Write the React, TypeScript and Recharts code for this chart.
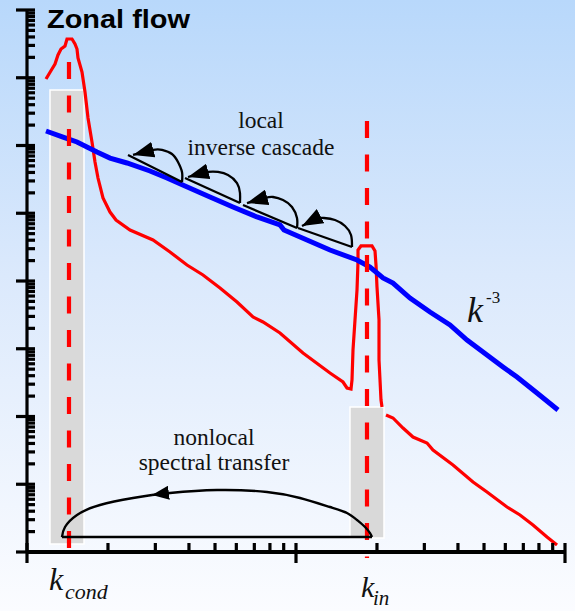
import React from 'react';
import { ComposedChart, XAxis, YAxis, Line, ReferenceArea, ReferenceLine } from 'recharts';

// Axes are log-log: values below are decades (log10 k, log10 E)
const xDecades = [0, 1];
const yDecades = [0, 1, 2, 3, 4, 5, 6, 7];
const minorMultipliers = [2, 3, 4, 5, 6, 7, 8, 9];
const xTicks = [...xDecades.flatMap((d) => [d, ...minorMultipliers.map((m) => d + Math.log10(m))]), 2];
const yTicks = [...yDecades.flatMap((d) => [d, ...minorMultipliers.map((m) => d + Math.log10(m))]), 8];

const kCond = 0.1561;
const kIn = 1.2639;
const kCondLineRange = [7.232, 0.059];
const kInLineRange = [6.362, -0.089];

const condBand = { x1: 0.0855, x2: 0.2119, y1: 0.118, y2: 6.819 };
const inBand = { x1: 1.2007, x2: 1.3271, y1: 0.207, y2: 2.14 };

const zonalLeft = [
  { x: 0.0706, y: 6.982 }, { x: 0.0929, y: 7.129 }, { x: 0.1041, y: 7.203 }, { x: 0.1152, y: 7.336 },
  { x: 0.1264, y: 7.424 }, { x: 0.1413, y: 7.469 }, { x: 0.1487, y: 7.572 }, { x: 0.1673, y: 7.572 },
  { x: 0.1784, y: 7.498 }, { x: 0.1859, y: 7.424 }, { x: 0.1896, y: 7.292 }, { x: 0.2045, y: 7.085 },
  { x: 0.2156, y: 6.79 }, { x: 0.2268, y: 6.406 }, { x: 0.2416, y: 6.052 }, { x: 0.2528, y: 5.756 },
  { x: 0.2639, y: 5.52 }, { x: 0.2825, y: 5.225 }, { x: 0.3086, y: 5.018 }, { x: 0.3309, y: 4.9 },
  { x: 0.3829, y: 4.753 }, { x: 0.4684, y: 4.605 }, { x: 0.5316, y: 4.428 }, { x: 0.5948, y: 4.236 },
  { x: 0.6543, y: 4.089 }, { x: 0.7175, y: 3.897 }, { x: 0.7807, y: 3.69 }, { x: 0.8401, y: 3.469 },
  { x: 0.8773, y: 3.395 }, { x: 0.9405, y: 3.232 }, { x: 1.026, y: 2.937 }, { x: 1.1264, y: 2.642 },
  { x: 1.1747, y: 2.509 }, { x: 1.1896, y: 2.421 }, { x: 1.2045, y: 2.406 }, { x: 1.2082, y: 2.539 },
  { x: 1.2119, y: 2.982 }, { x: 1.2193, y: 3.424 }, { x: 1.2268, y: 3.867 }, { x: 1.2305, y: 4.28 },
  { x: 1.2305, y: 4.458 }, { x: 1.2416, y: 4.517 }, { x: 1.2825, y: 4.517 }, { x: 1.2937, y: 4.443 },
  { x: 1.2974, y: 4.236 }, { x: 1.3011, y: 3.911 }, { x: 1.3086, y: 3.424 }, { x: 1.3086, y: 2.834 },
  { x: 1.3123, y: 2.539 }, { x: 1.316, y: 2.244 }, { x: 1.3197, y: 2.14 },
];

const zonalRight = [
  { x: 1.3346, y: 2.022 }, { x: 1.3606, y: 1.978 }, { x: 1.3978, y: 1.83 }, { x: 1.4349, y: 1.697 },
  { x: 1.487, y: 1.609 }, { x: 1.5093, y: 1.506 }, { x: 1.5836, y: 1.284 }, { x: 1.658, y: 1.033 },
  { x: 1.71, y: 0.886 }, { x: 1.7844, y: 0.664 }, { x: 1.8327, y: 0.546 }, { x: 1.881, y: 0.399 },
  { x: 1.9331, y: 0.221 }, { x: 1.9703, y: 0.103 },
];

const kMinus3 = [
  { x: 0.0706, y: 6.214 }, { x: 0.1338, y: 6.125 }, { x: 0.1859, y: 6.052 }, { x: 0.2602, y: 5.904 },
  { x: 0.3086, y: 5.815 }, { x: 0.3717, y: 5.742 }, { x: 0.4572, y: 5.624 }, { x: 0.5204, y: 5.52 },
  { x: 0.5874, y: 5.402 }, { x: 0.6803, y: 5.24 }, { x: 0.7658, y: 5.092 }, { x: 0.855, y: 4.945 },
  { x: 0.9405, y: 4.827 }, { x: 0.9554, y: 4.753 }, { x: 1.0409, y: 4.605 }, { x: 1.1264, y: 4.458 },
  { x: 1.2268, y: 4.31 }, { x: 1.2751, y: 4.207 }, { x: 1.3234, y: 4.044 }, { x: 1.3606, y: 3.97 },
  { x: 1.4238, y: 3.749 }, { x: 1.4981, y: 3.542 }, { x: 1.5725, y: 3.351 }, { x: 1.6357, y: 3.129 },
  { x: 1.71, y: 2.908 }, { x: 1.7695, y: 2.731 }, { x: 1.8216, y: 2.583 }, { x: 1.8959, y: 2.347 },
  { x: 1.974, y: 2.096 },
];

const cascadeChords = [
  [{ x: 0.3755, y: 5.86 }, { x: 0.5762, y: 5.461 }],
  [{ x: 0.5874, y: 5.52 }, { x: 0.7918, y: 5.151 }],
  [{ x: 0.803, y: 5.122 }, { x: 1.0037, y: 4.782 }],
  [{ x: 1.0074, y: 4.782 }, { x: 1.2082, y: 4.502 }],
];

const cascadeArcs = [
  [{ x: 0.5762, y: 5.461 }, { x: 0.5762, y: 5.609 }, { x: 0.5613, y: 5.756 }, { x: 0.539, y: 5.875 },
   { x: 0.5019, y: 5.934 }, { x: 0.4684, y: 5.934 }, { x: 0.3941, y: 5.86 }],
  [{ x: 0.7918, y: 5.151 }, { x: 0.7918, y: 5.299 }, { x: 0.7807, y: 5.446 }, { x: 0.7472, y: 5.565 },
   { x: 0.71, y: 5.609 }, { x: 0.6729, y: 5.609 }, { x: 0.5985, y: 5.535 }],
  [{ x: 1.0037, y: 4.782 }, { x: 1.0037, y: 4.93 }, { x: 0.9851, y: 5.092 }, { x: 0.9517, y: 5.196 },
   { x: 0.9145, y: 5.24 }, { x: 0.8848, y: 5.225 }, { x: 0.8178, y: 5.151 }],
  [{ x: 1.2082, y: 4.502 }, { x: 1.2045, y: 4.679 }, { x: 1.1822, y: 4.812 }, { x: 1.145, y: 4.9 },
   { x: 1.1041, y: 4.93 }, { x: 1.0743, y: 4.915 }, { x: 1.0223, y: 4.812 }],
];

const transferBase = [{ x: 0.1301, y: 0.221 }, { x: 1.2825, y: 0.221 }];
const transferArcHead = [
  { x: 1.2825, y: 0.221 }, { x: 1.2751, y: 0.28 }, { x: 1.2565, y: 0.369 }, { x: 1.2268, y: 0.472 },
  { x: 1.1896, y: 0.576 }, { x: 1.1264, y: 0.664 }, { x: 1.0149, y: 0.797 }, { x: 0.8922, y: 0.886 },
  { x: 0.7063, y: 0.915 }, { x: 0.5316, y: 0.871 }, { x: 0.4647, y: 0.841 },
];
const transferArcTail = [
  { x: 0.4647, y: 0.841 }, { x: 0.3941, y: 0.797 }, { x: 0.2714, y: 0.694 }, { x: 0.1859, y: 0.546 },
  { x: 0.1413, y: 0.369 }, { x: 0.1301, y: 0.221 },
];

const isMajor = (v: number) => Math.abs(v - Math.round(v)) < 1e-6;

const XTick = (props: any) => {
  const { x, y, payload } = props;
  const major = isMajor(payload.value);
  return <line x1={x} x2={x} y1={y - 9} y2={major ? y + 11 : y} stroke="#000" strokeWidth={3.2} />;
};

const YTick = (props: any) => {
  const { x, y, payload } = props;
  const major = isMajor(payload.value);
  return <line x1={major ? x - 11 : x} x2={x + 8} y1={y} y2={y} stroke="#000" strokeWidth={3.2} />;
};

const serif = '"Liberation Serif", "Times New Roman", serif';

export default function App() {
  return (
    <div
      style={{
        position: 'absolute',
        left: 0,
        top: 0,
        width: 575,
        height: 611,
        background: 'linear-gradient(to bottom, #b8d8fb 0%, #dbe9fc 45%, #fbfcff 100%)',
      }}
    >
      <ComposedChart width={575} height={611} margin={{ top: 10, right: 10, bottom: 58, left: 26 }}>
        <defs>
          <marker id="headBig" viewBox="0 0 10 10" refX="10" refY="5" markerWidth="21" markerHeight="16"
            markerUnits="userSpaceOnUse" orient="auto" preserveAspectRatio="none">
            <path d="M0,0 L10,5 L0,10 z" fill="#000" />
          </marker>
          <marker id="headSmall" viewBox="0 0 10 10" refX="10" refY="5" markerWidth="17" markerHeight="14"
            markerUnits="userSpaceOnUse" orient="auto" preserveAspectRatio="none">
            <path d="M0,0 L10,5 L0,10 z" fill="#000" />
          </marker>
        </defs>
        <XAxis
          type="number"
          dataKey="x"
          domain={[0, 2]}
          allowDataOverflow
          ticks={xTicks}
          interval={0}
          tick={(p: any) => <XTick {...p} />}
          tickLine={false}
          tickSize={0}
          tickMargin={0}
          height={1}
          axisLine={{ stroke: '#000', strokeWidth: 4 }}
        />
        <YAxis
          type="number"
          dataKey="y"
          domain={[0, 8]}
          allowDataOverflow
          ticks={yTicks}
          interval={0}
          tick={(p: any) => <YTick {...p} />}
          tickLine={false}
          tickSize={0}
          tickMargin={0}
          width={1}
          axisLine={{ stroke: '#000', strokeWidth: 3.2 }}
        />
        <ReferenceArea {...condBand} fill="#d9d9d9" fillOpacity={1} stroke="#ffffff" strokeWidth={1.5} ifOverflow="visible" />
        <ReferenceArea {...inBand} fill="#d9d9d9" fillOpacity={1} stroke="#ffffff" strokeWidth={1.5} ifOverflow="visible" />

        <Line data={zonalLeft} dataKey="y" type="linear" stroke="#ff0000" strokeWidth={3.2} dot={false} isAnimationActive={false} />
        <Line data={zonalRight} dataKey="y" type="linear" stroke="#ff0000" strokeWidth={3.2} dot={false} isAnimationActive={false} />
        <Line data={kMinus3} dataKey="y" type="linear" stroke="#0000ff" strokeWidth={5} dot={false} isAnimationActive={false} />

        <ReferenceLine
          segment={[{ x: kCond, y: kCondLineRange[0] }, { x: kCond, y: kCondLineRange[1] }]}
          stroke="#ff0000" strokeWidth={4.2} strokeDasharray="17 16.5" ifOverflow="visible"
        />
        <ReferenceLine
          segment={[{ x: kIn, y: kInLineRange[0] }, { x: kIn, y: kInLineRange[1] }]}
          stroke="#ff0000" strokeWidth={4.2} strokeDasharray="17 16.5" ifOverflow="visible"
        />

        {cascadeChords.map((d, i) => (
          <Line key={`c${i}`} data={d} dataKey="y" type="linear" stroke="#000" strokeWidth={2.3} dot={false} isAnimationActive={false} />
        ))}
        {cascadeArcs.map((d, i) => (
          <Line key={`a${i}`} data={d} dataKey="y" type="natural" stroke="#000" strokeWidth={2.3} dot={false}
            isAnimationActive={false} markerEnd="url(#headBig)" />
        ))}
        <Line data={transferBase} dataKey="y" type="linear" stroke="#000" strokeWidth={2.4} dot={false} isAnimationActive={false} />
        <Line data={transferArcHead} dataKey="y" type="natural" stroke="#000" strokeWidth={2.4} dot={false}
          isAnimationActive={false} markerEnd="url(#headSmall)" />
        <Line data={transferArcTail} dataKey="y" type="natural" stroke="#000" strokeWidth={2.4} dot={false} isAnimationActive={false} />

        <text x={47} y={28} fontFamily='"Liberation Sans", Arial, sans-serif' fontWeight="bold" fontSize={25}
          textLength={143} lengthAdjust="spacingAndGlyphs" fill="#000">Zonal flow</text>

        <text x={261} y={128} textAnchor="middle" fontFamily={serif} fontSize={23.5} fill="#111">local</text>
        <text x={261} y={155} textAnchor="middle" fontFamily={serif} fontSize={23.5} fill="#111">inverse cascade</text>

        <text x={214} y={445} textAnchor="middle" fontFamily={serif} fontSize={23.5} fill="#111">nonlocal</text>
        <text x={214} y={470} textAnchor="middle" fontFamily={serif} fontSize={23.5} fill="#111">spectral transfer</text>

        <text x={467} y={322} fontFamily={serif} fontStyle="italic" fontSize={36} fill="#111">k</text>
        <text x={486} y={303} fontFamily={serif} fontSize={17} fill="#111">-3</text>

        <text x={49} y={590} fontFamily={serif} fontStyle="italic" fontSize={32} fill="#111">k</text>
        <text x={65} y={599} fontFamily={serif} fontStyle="italic" fontSize={22} fill="#111">cond</text>

        <text x={361} y={597} fontFamily={serif} fontStyle="italic" fontSize={30} fill="#111">k</text>
        <text x={373} y={605} fontFamily={serif} fontStyle="italic" fontSize={21} fill="#111">in</text>
      </ComposedChart>
    </div>
  );
}
